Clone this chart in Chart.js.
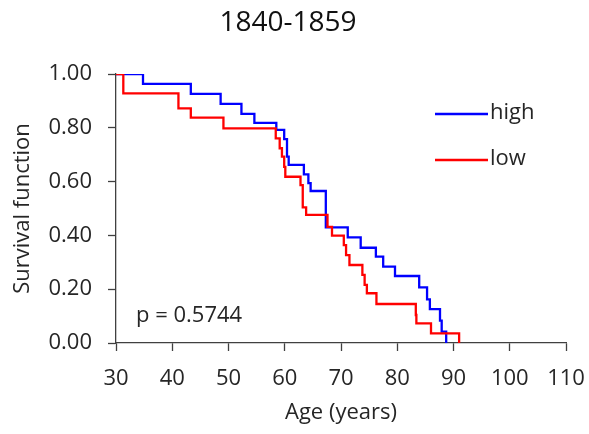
<!DOCTYPE html>
<html>
<head>
<meta charset="utf-8">
<script src="https://cdn.jsdelivr.net/npm/chart.js@4.4.0/dist/chart.umd.min.js"></script>
<style>
  html, body { margin: 0; padding: 0; background: #fff; }
  #wrap { width: 589px; height: 434px; position: relative; }
</style>
</head>
<body>
<div id="wrap"><canvas id="kmChart"></canvas></div>
<script>
/* ---------- data ---------- */
const chartTitle = '1840-1859';
const pValueText = 'p = 0.5744';
const seriesLabels = ['high', 'low'];

// high group: event ages and survival after each step
const highAge = [30, 34.8, 43.3, 48.6, 52.3, 54.6, 58.5, 59.9, 60.4, 60.7, 63.4, 64.2, 64.6, 67.3, 71.2, 73.5, 76.2, 77.5, 79.6, 83.9, 85.3, 85.8, 87.6, 87.9, 88.7];
const highSurv = [1, 0.963, 0.926, 0.889, 0.852, 0.818, 0.792, 0.758, 0.693, 0.662, 0.627, 0.594, 0.565, 0.43, 0.393, 0.354, 0.321, 0.284, 0.249, 0.207, 0.162, 0.126, 0.083, 0.042, 0];

// low group
const lowAge = [30, 31.3, 41.1, 43.3, 49.1, 58.4, 59.1, 59.5, 59.9, 60.1, 62.8, 63.2, 63.8, 67.6, 68.4, 70.5, 70.9, 71.5, 73.8, 74.2, 74.6, 76.3, 83.3, 83.4, 86.0, 91.0];
const lowSurv = [1, 0.928, 0.872, 0.838, 0.798, 0.761, 0.724, 0.693, 0.655, 0.618, 0.587, 0.504, 0.476, 0.432, 0.399, 0.364, 0.327, 0.290, 0.253, 0.216, 0.185, 0.145, 0.104, 0.073, 0.036, 0];

const xTicks = [30, 40, 50, 60, 70, 80, 90, 100, 110];
const yTicks = [0, 0.2, 0.4, 0.6, 0.8, 1.0];

/* ---------- style ---------- */
const FONT = "'Open Sans', sans-serif";
const INK = '#262626';
const AXIS = '#404040';
const colors = { high: '#0000FF', low: '#FF0000' };

const toPoints = (xs, ys) => xs.map((x, i) => ({ x, y: ys[i] }));

// legend + p-value drawn inside the plot, like the original
const innerText = {
  id: 'innerText',
  afterDraw(chart) {
    const { ctx } = chart;
    ctx.save();
    ctx.font = `22px ${FONT}`;
    ctx.fillStyle = INK;
    ctx.textBaseline = 'middle';
    ctx.textAlign = 'left';
    const rows = [{ label: seriesLabels[0], color: colors.high, y: 114 }, { label: seriesLabels[1], color: colors.low, y: 160 }];
    rows.forEach((r) => {
      ctx.strokeStyle = r.color;
      ctx.lineWidth = 2.3;
      ctx.beginPath();
      ctx.moveTo(435, r.y);
      ctx.lineTo(488, r.y);
      ctx.stroke();
      ctx.fillText(r.label, 490, r.y - 1);
    });
    ctx.fillText(pValueText, 136, 316);
    ctx.restore();
  },
};

new Chart(document.getElementById('kmChart').getContext('2d'), {
  type: 'line',
  data: {
    datasets: [
      { label: seriesLabels[0], data: toPoints(highAge, highSurv), borderColor: colors.high, order: 2 },
      { label: seriesLabels[1], data: toPoints(lowAge, lowSurv), borderColor: colors.low, order: 1 },
    ],
  },
  options: {
    responsive: true, maintainAspectRatio: false, animation: false,
    elements: {
      line: { stepped: 'before', borderWidth: 2.3, tension: 0, fill: false },
      point: { radius: 0, hoverRadius: 0 },
    },
    layout: { padding: { left: 10, right: 23, top: 0, bottom: 0 } },
    plugins: {
      legend: { display: false },
      tooltip: { enabled: false },
      title: {
        display: true, text: chartTitle, color: '#111',
        font: { family: FONT, size: 28, weight: 'normal' },
        padding: { top: 6, bottom: 34.4 },
      },
    },
    scales: {
      x: {
        type: 'linear', min: xTicks[0], max: xTicks[xTicks.length - 1],
        afterBuildTicks: (s) => { s.ticks = xTicks.map((v) => ({ value: v })); },
        afterFit: (s) => { s.height = 91; s.paddingLeft = 0; s.paddingRight = 0; },
        grid: { drawOnChartArea: false, tickLength: 8, tickColor: AXIS, tickWidth: 1.3 },
        border: { color: AXIS, width: 1.3 },
        ticks: { color: INK, font: { family: FONT, size: 22 }, padding: 15, maxRotation: 0 },
        title: { display: true, text: 'Age (years)', color: INK, font: { family: FONT, size: 22 }, padding: { top: 0, bottom: 8 } },
      },
      y: {
        min: 0, max: 1,
        afterBuildTicks: (s) => { s.ticks = yTicks.map((v) => ({ value: v })); },
        afterFit: (s) => { s.width = 106; s.paddingTop = 0; s.paddingBottom = 0; },
        grid: { drawOnChartArea: false, tickLength: 8, tickColor: AXIS, tickWidth: 1.3 },
        border: { color: AXIS, width: 1.3 },
        ticks: { color: INK, font: { family: FONT, size: 22 }, padding: 16, callback: (v) => Number(v).toFixed(2) },
        title: { display: true, text: 'Survival function', color: INK, font: { family: FONT, size: 22 }, padding: { top: 0, bottom: 0 } },
      },
    },
  },
  plugins: [innerText],
});
</script>
</body>
</html>
